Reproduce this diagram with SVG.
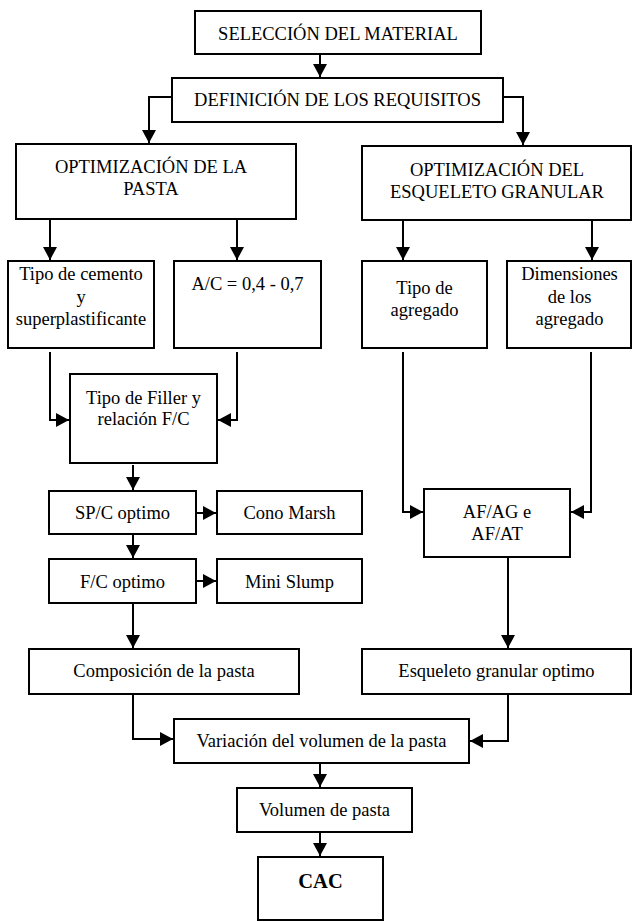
<svg xmlns="http://www.w3.org/2000/svg" width="633" height="922" viewBox="0 0 633 922">
<style>
.b{fill:#fff;stroke:#000;stroke-width:2}
.t{font-family:"Liberation Serif","Times New Roman",serif;font-size:18.5px;fill:#000;text-anchor:middle}
.bold{font-weight:bold;font-size:20.5px}
.c{fill:none;stroke:#000;stroke-width:2}
</style>
<defs>
<marker id="ah" viewBox="0 0 13 14" refX="13" refY="7" markerWidth="13" markerHeight="14" markerUnits="userSpaceOnUse" orient="auto">
<path d="M0,0 L13,7 L0,14 z" fill="#000"/>
</marker>
</defs>
<rect width="633" height="922" fill="#fff"/>
<g id="connectors">
<path class="c" marker-end="url(#ah)" d="M320,54 V77"/>
<path class="c" marker-end="url(#ah)" d="M172,97 H149 V143"/>
<path class="c" marker-end="url(#ah)" d="M503,97 H523 V145"/>
<path class="c" marker-end="url(#ah)" d="M50,219 V260"/>
<path class="c" marker-end="url(#ah)" d="M237,219 V260"/>
<path class="c" marker-end="url(#ah)" d="M403,220 V260"/>
<path class="c" marker-end="url(#ah)" d="M592,220 V260"/>
<path class="c" marker-end="url(#ah)" d="M50,352 V420 H69"/>
<path class="c" marker-end="url(#ah)" d="M237,352 V420 H218"/>
<path class="c" marker-end="url(#ah)" d="M403,352 V512 H423"/>
<path class="c" marker-end="url(#ah)" d="M591,352 V512 H571"/>
<path class="c" marker-end="url(#ah)" d="M133,465 V490"/>
<path class="c" marker-end="url(#ah)" d="M196,513 H216"/>
<path class="c" marker-end="url(#ah)" d="M133,534 V558"/>
<path class="c" marker-end="url(#ah)" d="M196,581 H216"/>
<path class="c" marker-end="url(#ah)" d="M133,603 V648"/>
<path class="c" marker-end="url(#ah)" d="M508,557 V648"/>
<path class="c" marker-end="url(#ah)" d="M133,694 V739 H173"/>
<path class="c" marker-end="url(#ah)" d="M508,694 V741 H470"/>
<path class="c" marker-end="url(#ah)" d="M320,763 V787"/>
<path class="c" marker-end="url(#ah)" d="M320,832 V856"/>
</g>
<g id="seleccion"><rect class="b" x="195" y="11" width="286" height="43"/><text class="t" x="338" y="39.5">SELECCIÓN DEL MATERIAL</text></g>
<g id="definicion"><rect class="b" x="172" y="78" width="331" height="44"/><text class="t" x="337.5" y="106">DEFINICIÓN DE LOS REQUISITOS</text></g>
<g id="opt-pasta"><rect class="b" x="16" y="144" width="280" height="75"/><text class="t" x="151" y="173">OPTIMIZACIÓN DE LA</text><text class="t" x="151" y="195">PASTA</text></g>
<g id="opt-esqueleto"><rect class="b" x="362" y="146" width="269" height="74"/><text class="t" x="497" y="176">OPTIMIZACIÓN DEL</text><text class="t" x="497" y="198">ESQUELETO GRANULAR</text></g>
<g id="tipo-cemento"><rect class="b" x="8" y="261" width="146" height="87"/><text class="t" x="81" y="280">Tipo de cemento</text><text class="t" x="81" y="302.5">y</text><text class="t" x="81" y="325">superplastificante</text></g>
<g id="ac"><rect class="b" x="174" y="261" width="147" height="87"/><text class="t" x="247.5" y="290">A/C = 0,4 - 0,7</text></g>
<g id="tipo-agregado"><rect class="b" x="362" y="261" width="125" height="87"/><text class="t" x="424.5" y="294">Tipo de</text><text class="t" x="424.5" y="316">agregado</text></g>
<g id="dimensiones"><rect class="b" x="507" y="261" width="124" height="87"/><text class="t" x="569.5" y="280">Dimensiones</text><text class="t" x="569.5" y="302.5">de los</text><text class="t" x="569.5" y="325">agregado</text></g>
<g id="filler"><rect class="b" x="70" y="374" width="147" height="89"/><text class="t" x="143.5" y="404">Tipo de Filler y</text><text class="t" x="143.5" y="425">relación F/C</text></g>
<g id="afag"><rect class="b" x="424" y="489" width="146" height="68"/><text class="t" x="497" y="518">AF/AG e</text><text class="t" x="497" y="540">AF/AT</text></g>
<g id="spc"><rect class="b" x="49" y="491" width="147" height="43"/><text class="t" x="122.5" y="519">SP/C optimo</text></g>
<g id="cono"><rect class="b" x="217" y="491" width="145" height="43"/><text class="t" x="289.5" y="519">Cono Marsh</text></g>
<g id="fc"><rect class="b" x="49" y="559" width="147" height="44"/><text class="t" x="122.5" y="588">F/C optimo</text></g>
<g id="mini"><rect class="b" x="217" y="559" width="145" height="44"/><text class="t" x="289.5" y="588">Mini Slump</text></g>
<g id="composicion"><rect class="b" x="29" y="649" width="270" height="45"/><text class="t" x="164" y="677">Composición de la pasta</text></g>
<g id="esqueleto"><rect class="b" x="362" y="649" width="269" height="45"/><text class="t" x="496.5" y="677">Esqueleto granular optimo</text></g>
<g id="variacion"><rect class="b" x="174" y="719" width="295" height="44"/><text class="t" x="321.5" y="747">Variación del volumen de la pasta</text></g>
<g id="volumen"><rect class="b" x="237" y="788" width="175" height="44"/><text class="t" x="324.5" y="816">Volumen de pasta</text></g>
<g id="cac"><rect class="b" x="258" y="857" width="125" height="63"/><text class="t bold" x="320.5" y="888">CAC</text></g>
</svg>
